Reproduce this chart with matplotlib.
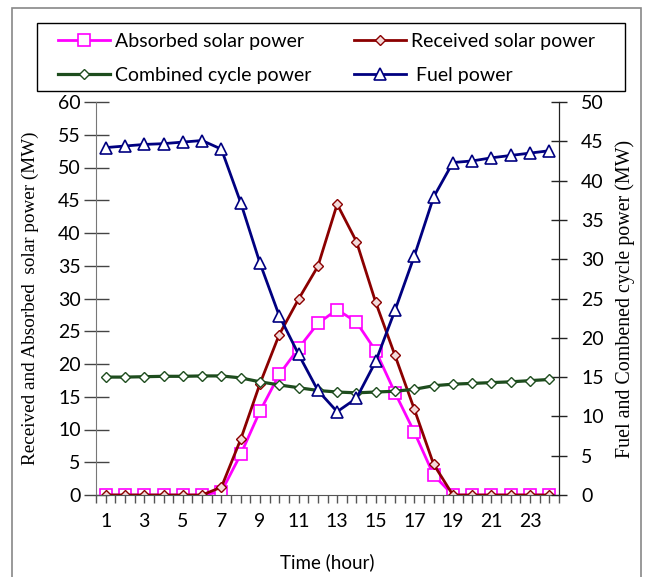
import numpy as np
import matplotlib.pyplot as plt
from matplotlib.patches import Rectangle

plt.rcParams["font.family"] = ["Lato", "DejaVu Sans"]

hours = np.arange(1, 25)

absorbed = [0, 0, 0, 0, 0, 0, 0.5, 6.2, 12.8, 18.4, 22.4, 26.2, 28.3, 26.4,
            22.0, 15.6, 9.6, 3.05, 0, 0, 0, 0, 0, 0]
received = [0, 0, 0, 0, 0, 0, 1.2, 8.5, 17.0, 24.5, 29.9, 34.9, 44.4, 38.7,
            29.4, 21.3, 13.1, 4.7, 0, 0, 0, 0, 0, 0]
combined = [15.0, 15.0, 15.05, 15.1, 15.1, 15.15, 15.15, 14.9, 14.4, 14.0, 13.65, 13.3,
            13.1, 13.0, 13.1, 13.2, 13.45, 13.9, 14.1, 14.2, 14.3, 14.4, 14.55, 14.7]
fuel = [44.2, 44.4, 44.6, 44.7, 44.9, 45.1, 44.0, 37.2, 29.5, 22.8, 17.9, 13.3,
        10.6, 12.3, 17.0, 23.5, 30.4, 37.9, 42.3, 42.5, 42.9, 43.2, 43.5, 43.8]

C_ABS = "#ff00ff"
C_REC = "#8b0000"
C_COMB = "#1e4d1e"
C_FUEL = "#000080"

W, H = 645, 577
fig = plt.figure(figsize=(W / 100, H / 100), dpi=100)
ax = fig.add_axes([96 / W, 82 / H, 463 / W, 393 / H])
ax2 = ax.twinx()

l1, = ax.plot(hours, absorbed, color=C_ABS, lw=2.0, marker="s", ms=8,
              mfc="white", mec=C_ABS, mew=1.2, label="Absorbed solar power")
l2, = ax.plot(hours, received, color=C_REC, lw=2.0, marker="D", ms=5,
              mfc="#f3dada", mec=C_REC, mew=1.0, label="Received solar power")
l3, = ax2.plot(hours, combined, color=C_COMB, lw=2.3, marker="D", ms=5.5,
               mfc="white", mec=C_COMB, mew=1.0, label="Combined cycle power")
l4, = ax2.plot(hours, fuel, color=C_FUEL, lw=2.0, marker="^", ms=8,
               mfc="white", mec=C_FUEL, mew=1.2, label=" Fuel power")

ax.set_xlim(0.5, 24.5)
ax.set_ylim(0, 60)
ax2.set_ylim(0, 50)
ax.set_yticks(np.arange(0, 61, 5))
ax2.set_yticks(np.arange(0, 51, 5))
ax.set_xticks(np.arange(0.5, 24.6, 0.5), minor=True)
ax.set_xticks(np.arange(1, 24, 2))
ax.tick_params(axis="x", which="both", direction="out", length=6, width=1,
               color="#555", labelsize=14, pad=7)
ax.tick_params(axis="y", direction="inout", length=18, width=1, color="#444",
               labelsize=14, pad=2)
ax2.tick_params(axis="y", direction="inout", length=12, width=1, color="#222",
                labelsize=14, pad=10)

for a in (ax, ax2):
    a.spines["top"].set_visible(False)
ax.spines["left"].set_color("#777")
ax.spines["bottom"].set_color("#555")
ax2.spines["left"].set_visible(False)
ax2.spines["bottom"].set_visible(False)
ax2.spines["right"].set_color("#222")

ax.set_xlabel("Time (hour)", fontsize=13.5, labelpad=17)
ax.set_ylabel("Received and Absorbed  solar power (MW)", fontsize=13.8,
              family="Liberation Serif", labelpad=14)
ax2.set_ylabel("Fuel and Combened cycle power (MW)", fontsize=14.4,
               family="Liberation Serif", labelpad=8)

# legend content placed inside a separately drawn box
leg_h = 60 / H
fig.legend([l1, l3, l2, l4], [l1.get_label(), l3.get_label(), l2.get_label(), l4.get_label()],
           ncol=2, loc="upper left", mode="expand",
           bbox_to_anchor=(50 / W, 1 - 25 / H - leg_h, 553 / W, leg_h),
           fontsize=14, frameon=False, handlelength=2.7, handletextpad=0.25,
           borderpad=0.4, labelspacing=0.86, borderaxespad=0)
fig.patches.append(Rectangle((37 / W, 1 - 91 / H), 588 / W, 68 / H,
                             transform=fig.transFigure, fill=False,
                             edgecolor="black", lw=1.0))

fig.patches.append(Rectangle((12 / W, -0.05), 629 / W, 1.05 - 8 / H,
                             transform=fig.transFigure, fill=False,
                             edgecolor="#888", lw=1.2))

fig.savefig("out.png", dpi=100)
